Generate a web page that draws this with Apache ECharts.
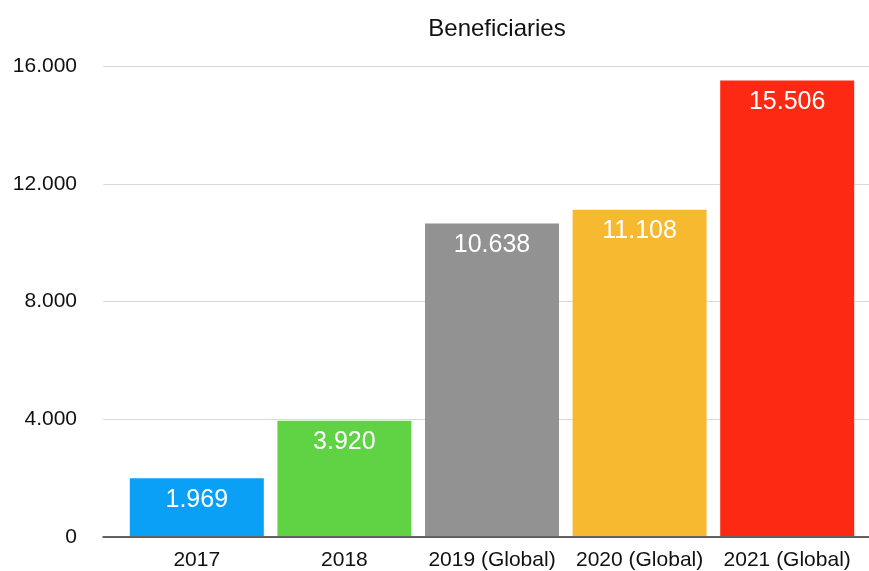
<!DOCTYPE html>
<html>
<head>
<meta charset="utf-8">
<script src="https://cdn.jsdelivr.net/npm/echarts@6/dist/echarts.min.js"></script>
<style>
  html, body { margin: 0; padding: 0; background: #fff; }
  #chart { width: 869px; height: 571px; }
</style>
</head>
<body>
<div id="chart"></div>
<script>
var categories = ['2017', '2018', '2019 (Global)', '2020 (Global)', '2021 (Global)'];
var values = [1969, 3920, 10638, 11108, 15506];
var barColors = ['#0aa0f6', '#5fd343', '#929292', '#f6b92f', '#fd2912'];
var yTicks = { min: 0, max: 16000, interval: 4000 };

// 1.969 style - dot as thousands separator
function fmt(v) {
  return String(v).replace(/\B(?=(\d{3})+(?!\d))/g, '.');
}

var font = 'Liberation Sans, Helvetica, Arial, sans-serif';
var chart = echarts.init(document.getElementById('chart'));

var option = {
  animation: false,
  title: {
    text: 'Beneficiaries',
    left: 492,
    top: 12,
    textAlign: 'center',
    textStyle: { fontFamily: font, fontSize: 24, fontWeight: 'normal', color: '#111' }
  },
  // grid 0 draws the gridlines + y labels, grid 1 holds the bars
  grid: [
    { left: 103, right: 0, top: 66, bottom: 34 },
    { left: 123, right: 8, top: 66, bottom: 34 }
  ],
  xAxis: [
    {
      gridIndex: 0, type: 'value', min: 0, max: 1,
      axisLine: { show: true, onZero: false, lineStyle: { color: '#333', width: 1.5 } },
      axisTick: { show: false }, axisLabel: { show: false }, splitLine: { show: false }
    },
    {
      gridIndex: 1, type: 'category', data: categories,
      axisLine: { show: false }, axisTick: { show: false },
      axisLabel: { interval: 0, fontFamily: font, fontSize: 21, color: '#111', margin: 14 }
    }
  ],
  yAxis: [
    {
      gridIndex: 0, type: 'value', min: yTicks.min, max: yTicks.max, interval: yTicks.interval,
      axisLine: { show: false }, axisTick: { show: false },
      axisLabel: { fontFamily: font, fontSize: 21, color: '#111', margin: 26, formatter: fmt },
      splitLine: { lineStyle: { color: '#d9d9d9', width: 1 } }
    },
    {
      gridIndex: 1, type: 'value', min: yTicks.min, max: yTicks.max, interval: yTicks.interval,
      show: false, splitLine: { show: false }
    }
  ],
  series: [
    {
      type: 'bar',
      xAxisIndex: 1,
      yAxisIndex: 1,
      barWidth: 134,
      data: values.map(function (v, i) {
        return { value: v, itemStyle: { color: barColors[i] } };
      }),
      label: {
        show: true,
        position: 'insideTop',
        distance: 9,
        fontFamily: font,
        fontSize: 25,
        color: '#fff',
        formatter: function (p) { return fmt(p.value); }
      }
    }
  ]
};

chart.setOption(option);
</script>
</body>
</html>
